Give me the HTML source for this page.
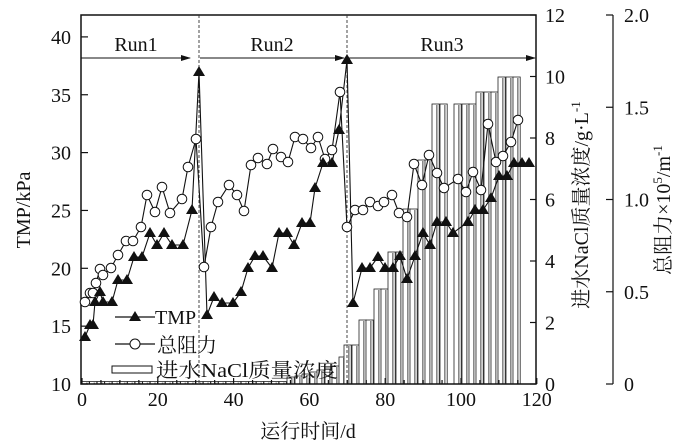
<!DOCTYPE html>
<html><head><meta charset="utf-8"><style>
html,body{margin:0;padding:0;background:#fff}
svg{display:block}
text{font-family:"Liberation Serif","Noto Serif CJK SC",serif;fill:#111}
</style></head><body>
<svg width="700" height="446" viewBox="0 0 700 446" xmlns="http://www.w3.org/2000/svg">
<defs>
<marker id="ar" markerWidth="10" markerHeight="8" refX="9" refY="4" orient="auto" markerUnits="userSpaceOnUse"><path d="M0,1 L10,4 L0,7 Z" fill="#111"/></marker>
</defs>
<g id="bars" stroke="#222" stroke-width="0.8"></g>
<script>
(function(){
var svg=document.querySelector('svg'),NS='http://www.w3.org/2000/svg';
var g=document.getElementById('bars');
function el(t,a,p){var e=document.createElementNS(NS,t);for(var k in a)e.setAttribute(k,a[k]);(p||svg).appendChild(e);return e;}
var bars=[];
for(var x=82;x<285;x+=7.58){bars.push([x,381.5]);}
bars.push([287,377],[295,376],[302,374],[310,372],[317,370],[325,368],[332,366],[339,357]);
bars.push([344,345],[352,345],[359,320],[366,320],[374,289],[381,289],[388,252],[396,252],[403,209],[410,209],[418,160],[425,160],[432,104],[440,104],[454,104],[462,104],[469,104],[476,92],[484,92],[491,92],[498,77],[506,77],[513,77]);
bars.forEach(function(b){
 var w=7.2,h=384-b[1];
 el('rect',{x:b[0],y:b[1],width:w,height:h,fill:'#fff'},g);
 el('line',{x1:b[0]+4.8,y1:b[1]+1,x2:b[0]+4.8,y2:384,stroke:'#888','stroke-width':1.6},g);
});
})();
</script>
<rect x="81" y="15" width="455" height="369" fill="none" stroke="#111" stroke-width="1.5"/>
<line x1="199" y1="15" x2="199" y2="384" stroke="#333" stroke-dasharray="3,2" stroke-width="0.9"/>
<line x1="347" y1="15" x2="347" y2="384" stroke="#333" stroke-dasharray="3,2" stroke-width="0.9"/>
<line x1="81" y1="58" x2="190" y2="58" stroke="#111" stroke-width="1.1" marker-end="url(#ar)"/>
<line x1="200" y1="58" x2="344" y2="58" stroke="#111" stroke-width="1.1" marker-end="url(#ar)"/>
<line x1="349" y1="58" x2="535" y2="58" stroke="#111" stroke-width="1.1" marker-end="url(#ar)"/>
<text x="136" y="51" font-size="20" text-anchor="middle">Run1</text>
<text x="272" y="51" font-size="20" text-anchor="middle">Run2</text>
<text x="442" y="51" font-size="20" text-anchor="middle">Run3</text>
<g id="axes" stroke="#111" stroke-width="1.2"></g>
<g id="series"></g>
<line x1="115" y1="317" x2="155" y2="317" stroke="#111" stroke-width="1.2"/>
<path d="M135,311 L141,321 L129,321 Z" fill="#111"/>
<text x="155" y="324" font-size="20">TMP</text>
<line x1="115" y1="344" x2="155" y2="344" stroke="#111" stroke-width="1.2"/>
<circle cx="135" cy="344" r="5" fill="#fff" stroke="#111" stroke-width="1"/>
<text x="157" y="352" font-size="20">总阻力</text>
<rect x="112" y="366" width="40" height="7" fill="#fff" stroke="#111" stroke-width="1"/>
<text x="156" y="377" font-size="20" textLength="182" lengthAdjust="spacingAndGlyphs">进水NaCl质量浓度</text>
<text transform="translate(30,210) rotate(-90)" font-size="20" text-anchor="middle">TMP/kPa</text>
<text x="308" y="438" font-size="20" text-anchor="middle">运行时间/d</text>
<text transform="translate(588,205) rotate(-90)" font-size="20" text-anchor="middle">进水NaCl质量浓度/g·L<tspan dy="-8" font-size="13">-1</tspan></text>
<text transform="translate(670,210) rotate(-90)" font-size="20" text-anchor="middle">总阻力×10<tspan dy="-8" font-size="13">5</tspan><tspan dy="8">/m</tspan><tspan dy="-8" font-size="13">-1</tspan></text>
<script>
(function(){
var NS='http://www.w3.org/2000/svg';
function el(t,a,p,txt){var e=document.createElementNS(NS,t);for(var k in a)e.setAttribute(k,a[k]);p.appendChild(e);if(txt!=null)e.textContent=txt;return e;}
var ax=document.getElementById('axes'),svg=document.querySelector('svg');
for(var v=10;v<=40;v+=5){var y=384-(v-10)*11.57;el('line',{x1:81,y1:y,x2:88,y2:y},ax);el('text',{x:71,y:y+7,'font-size':20,'text-anchor':'end'},svg,v);}
for(var d=0;d<=120;d+=5){var x=82+d*3.79;el('line',{x1:x,y1:384,x2:x,y2:d%20==0?378:380},ax);}
for(var d=0;d<=120;d+=20){var x=82+d*3.79;el('text',{x:x,y:406,'font-size':20,'text-anchor':'middle'},svg,d);}
for(var v=0;v<=12;v+=2){var y=384-v*30.75;el('line',{x1:536,y1:y,x2:530,y2:y},ax);el('text',{x:545,y:y+7,'font-size':20},svg,v);}
el('line',{x1:613,y1:15,x2:613,y2:384},ax);
var r2=['0','0.5','1.0','1.5','2.0'];
for(var i=0;i<5;i++){var y=384-i*92.25;el('line',{x1:606,y1:y,x2:613,y2:y},ax);el('text',{x:624,y:y+7,'font-size':20},svg,r2[i]);}
var s=document.getElementById('series');
var tmp=[[85,337],[90,325],[93,325],[95,302],[100,292],[103,302],[112,302],[118,280],[127,280],[134,257],[142,257],[150,233],[157,245],[164,233],[172,245],[183,245],[192,210],[199,72],[207,315],[214,297],[222,303],[233,303],[241,292],[248,268],[255,256],[263,256],[272,268],[279,233],[287,233],[294,245],[302,223],[310,223],[315,188],[323,163],[332,163],[339,130],[347,60],[353,303],[362,268],[370,268],[378,257],[385,268],[393,268],[400,256],[407,279],[415,256],[423,233],[430,245],[437,222],[446,222],[453,233],[468,222],[475,210],[483,210],[491,198],[499,176],[507,176],[514,163],[522,163],[529,163]];
var cir=[[85,302],[90,293],[93,293],[96,283],[100,269],[103,275],[111,268],[118,255],[126,241],[133,241],[141,227],[147,195],[155,212],[162,187],[170,213],[182,199],[188,167],[196,139],[204,267],[211,227],[218,202],[229,185],[237,195],[244,211],[251,165],[258,158],[267,164],[273,149],[281,157],[288,162],[295,137],[303,139],[311,148],[318,137],[325,159],[332,150],[340,92],[347,227],[355,210],[363,210],[370,202],[378,206],[384,202],[392,195],[399,213],[407,217],[414,164],[422,185],[429,155],[437,173],[444,188],[458,179],[466,192],[473,172],[481,190],[488,124],[496,162],[503,156],[511,142],[518,120]];
function pts(a){return a.map(function(p){return p.join(',');}).join(' ');}
el('polyline',{points:pts(cir),fill:'none',stroke:'#111','stroke-width':1.1},s);
el('polyline',{points:pts(tmp),fill:'none',stroke:'#111','stroke-width':1.1},s);
cir.forEach(function(p){el('circle',{cx:p[0],cy:p[1],r:4.8,fill:'#fff',stroke:'#111','stroke-width':1},s);});
tmp.forEach(function(p){el('path',{d:'M'+p[0]+','+(p[1]-6)+' l6,10 l-12,0 z',fill:'#111'},s);});
})();
</script>
</svg>
</body></html>
